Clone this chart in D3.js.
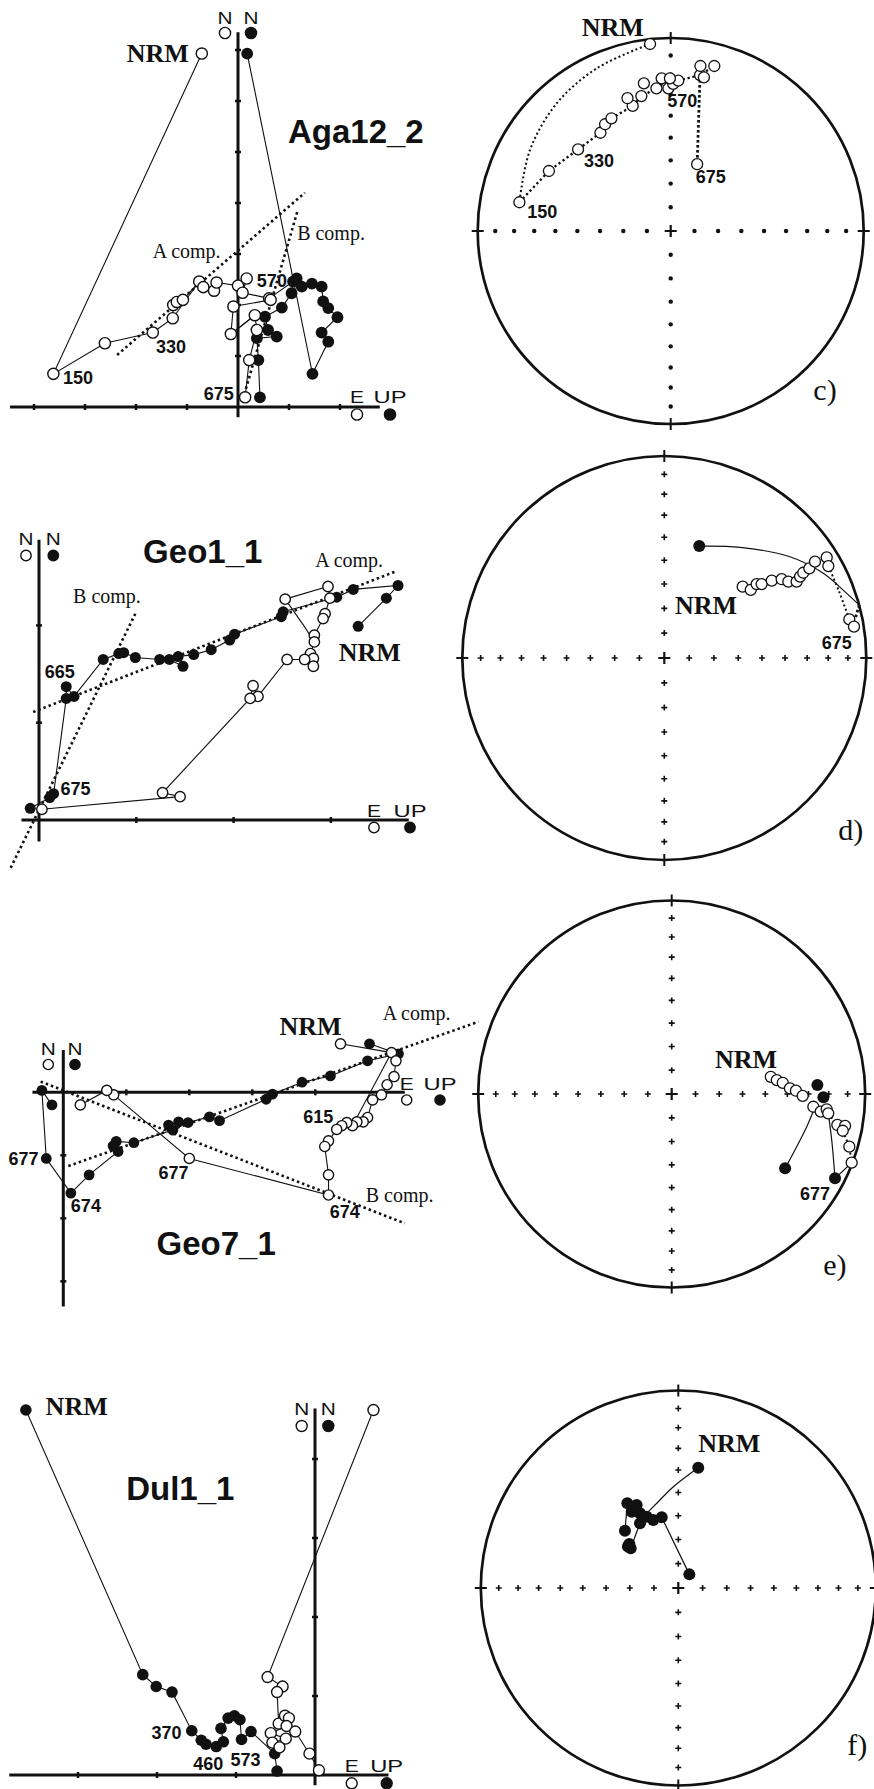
<!DOCTYPE html>
<html>
<head>
<meta charset="utf-8">
<script src="https://cdn.jsdelivr.net/npm/d3@7"></script>
<style>
  body { margin: 0; background: #fff; }
  svg { display: block; }
  .axis { stroke: #111; stroke-width: 3; }
  .tick { stroke: #111; stroke-width: 2.5; }
  .path { fill: none; stroke: #111; stroke-width: 1.1; }
  .comp { fill: none; stroke: #111; stroke-width: 2.6; stroke-dasharray: 2.5 3; }
  .sans { font-family: "Liberation Sans", Arial, sans-serif; fill: #111; }
  .serif { font-family: "Liberation Serif", "Times New Roman", serif; fill: #111; }
</style>
</head>
<body>
<svg width="874" height="1789"></svg>
<script>
const svg = d3.select("svg");

// ---------- Zijderveld data, in tick units ----------
const agaOpen = [[-0.71,6.93],[-3.62,0.65],[-2.61,1.25],[-1.67,1.46],[-1.28,1.74],[-1.27,2.00],[-1.20,2.06],[-1.08,2.10],[-0.76,2.46],[-0.68,2.35],[-0.47,2.28],[-0.42,2.44],[0,2.38],[0.17,2.52],[0.09,2.24],[0.61,2.13],[0.64,2.10],[-0.09,1.97],[-0.14,1.43],[0.33,1.80],[0.37,1.51],[0.22,0.92],[0.14,0.19]];
const agaFilled = [[0.18,6.93],[1.46,0.65],[1.77,1.28],[1.64,1.46],[1.95,1.76],[1.77,1.94],[1.67,2.07],[1.64,2.36],[1.45,2.42],[1.25,2.36],[1.15,2.52],[1.08,2.46],[1.05,2.23],[0.86,1.95],[0.53,1.77],[0.59,1.51],[0.76,1.38],[0.37,1.35],[0.40,0.92],[0.43,0.19]];
const agaThick = [[[-1.28,1.74],[-0.76,2.46]],[[1.08,2.46],[0.61,2.13]],[[-0.14,1.43],[0.33,1.80]]];
const agaComps = [[[-2.37,1.02],[1.31,4.20]],[[1.16,3.82],[0.08,0.10]]];
const agaXTicks = [-4,-3,-2,-1,1,2];
const agaYTicks = [1,2,3,4,5,6,7];
const agaLabels = [
  {t:"Aga12_2", p:[0.98,5.18], k:"title"},
  {t:"NRM", p:[-2.18,6.76], k:"nrm"},
  {t:"150", p:[-3.43,0.45], k:"num"},
  {t:"330", p:[-1.61,1.06], k:"num"},
  {t:"570", p:[0.37,2.35], k:"num"},
  {t:"675", p:[-0.67,0.14], k:"num"},
  {t:"A comp.", p:[-1.67,2.92], k:"comp"},
  {t:"B comp.", p:[1.16,3.27], k:"comp"}
];

const geo1Open = [[2.53,2.27],[2.97,2.40],[2.99,2.28],[2.94,2.12],[2.92,2.07],[2.83,1.90],[2.83,1.83],[2.79,1.71],[2.82,1.66],[2.82,1.58],[2.73,1.65],[2.55,1.65],[2.25,1.27],[2.20,1.38],[2.17,1.25],[1.27,0.28],[1.45,0.24],[0.03,0.11]];
const geo1OpenExtra = [[2.53,2.27],[2.72,2.00],[2.83,1.83]];
const geo1Filled = [[3.28,1.99],[3.57,2.28],[3.69,2.41],[3.23,2.37],[3.06,2.29],[2.51,2.14],[2.49,2.09],[2.01,1.91],[1.96,1.85],[1.77,1.75],[1.59,1.70],[1.43,1.68],[1.48,1.58],[1.34,1.65],[1.24,1.65],[0.99,1.67],[0.87,1.72],[0.82,1.71],[0.66,1.65],[0.36,1.27],[0.28,1.37],[0.28,1.25],[0.15,0.27],[0.11,0.23],[-0.09,0.12]];
const geo1Comps = [[[-0.06,1.11],[3.68,2.56]],[[0.99,2.12],[-0.30,-0.51]]];
const geo1XTicks = [1,2,3];
const geo1YTicks = [1,2];
const geo1Labels = [
  {t:"Geo1_1", p:[1.07,2.64], k:"title"},
  {t:"NRM", p:[3.08,1.63], k:"nrm"},
  {t:"665", p:[0.06,1.46], k:"num"},
  {t:"675", p:[0.22,0.26], k:"num"},
  {t:"A comp.", p:[2.84,2.60], k:"comp"},
  {t:"B comp.", p:[0.35,2.23], k:"comp"}
];

const geo7Open = [[4.40,0.77],[5.21,0.63],[5.28,0.50],[5.25,0.25],[5.14,0.12],[5.05,-0.04],[4.91,-0.12],[4.83,-0.40],[4.76,-0.47],[4.66,-0.47],[4.59,-0.53],[4.50,-0.48],[4.42,-0.53],[4.34,-0.59],[4.21,-0.77],[4.15,-0.86],[4.21,-1.31],[4.21,-1.63],[2.00,-1.05],[0.80,-0.04],[0.69,0.03],[0.27,-0.20]];
const geo7OpenExtra = [[5.21,0.63],[4.59,-0.53]];
const geo7Filled = [[4.86,0.77],[5.32,0.61],[4.83,0.50],[4.24,0.26],[3.79,0.16],[3.32,-0.03],[3.22,-0.11],[2.48,-0.45],[2.32,-0.39],[1.98,-0.48],[1.83,-0.47],[1.67,-0.52],[1.74,-0.60],[1.12,-0.80],[0.84,-0.78],[0.79,-0.85],[0.87,-0.94],[0.41,-1.31],[0.12,-1.60],[-0.27,-1.05],[-0.34,0.03],[-0.18,-0.20]];
const geo7Comps = [[[0.08,-1.17],[6.59,1.12]],[[-0.36,0.17],[5.42,-2.08]]];
const geo7XTicks = [1,2,3,4];
const geo7YTicks = [-1,-2,-3];
const geo7Labels = [
  {t:"Geo7_1", p:[1.48,-2.58], k:"title"},
  {t:"NRM", p:[3.43,0.91], k:"nrm"},
  {t:"615", p:[3.81,-0.48], k:"num"},
  {t:"677", p:[-0.87,-1.15], k:"num"},
  {t:"674", p:[0.12,-1.90], k:"num"},
  {t:"677", p:[1.51,-1.37], k:"num"},
  {t:"674", p:[4.23,-2.00], k:"num"},
  {t:"A comp.", p:[5.07,1.15], k:"comp"},
  {t:"B comp.", p:[4.80,-1.74], k:"comp"}
];

const dulOpen = [[0.74,4.62],[-0.60,1.24],[-0.41,1.12],[-0.48,1.05],[-0.46,0.65],[-0.38,0.75],[-0.33,0.72],[-0.36,0.62],[-0.56,0.53],[-0.37,0.46],[-0.54,0.41],[-0.45,0.35],[-0.25,0.55],[-0.07,0.27],[0.05,0.06]];
const dulFilled = [[-3.66,4.62],[-2.18,1.27],[-2.01,1.12],[-1.81,1.05],[-1.56,0.56],[-1.44,0.44],[-1.38,0.39],[-1.25,0.36],[-1.16,0.42],[-1.19,0.59],[-1.10,0.72],[-1.02,0.75],[-0.95,0.70],[-0.93,0.45],[-0.81,0.55],[-0.51,0.27],[-0.48,0.05]];
const dulXTicks = [-3,-2,-1];
const dulYTicks = [1,2,3,4];
const dulLabels = [
  {t:"Dul1_1", p:[-2.39,3.48], k:"title"},
  {t:"NRM", p:[-3.41,4.56], k:"nrm"},
  {t:"370", p:[-2.07,0.46], k:"num"},
  {t:"460", p:[-1.54,0.06], k:"num"},
  {t:"573", p:[-1.07,0.11], k:"num"}
];

// ---------- stereonet data, in net radius units (east, north) ----------
const cOpen = [[-0.107,0.969],[-0.784,0.149],[-0.631,0.311],[-0.480,0.423],[-0.364,0.509],[-0.340,0.553],[-0.307,0.584],[-0.197,0.648],[-0.224,0.688],[-0.152,0.699],[-0.139,0.765],[-0.074,0.739],[-0.047,0.791],[-0.012,0.739],[0.013,0.762],[0.039,0.779],[-0.004,0.791],[0.152,0.808],[0.172,0.796],[0.154,0.855],[0.226,0.855],[0.137,0.346]];
const cArc = [[-0.107,0.969],[-0.383,0.843],[-0.590,0.662],[-0.729,0.420],[-0.784,0.149]];
const cTrack = [[-0.784,0.149],[-0.631,0.311],[-0.480,0.423],[-0.364,0.509],[-0.307,0.584],[-0.197,0.648],[-0.152,0.699],[-0.074,0.739],[-0.004,0.791],[0.039,0.779],[0.152,0.808],[0.226,0.855]];
const cDrop = [[0.152,0.808],[0.137,0.346]];
const cLabels = [
  {t:"NRM", p:[-0.461,1.010], k:"nrm"},
  {t:"150", p:[-0.743,0.066], k:"num"},
  {t:"330", p:[-0.449,0.333], k:"num"},
  {t:"570", p:[-0.018,0.641], k:"num"},
  {t:"675", p:[0.130,0.247], k:"num"},
  {t:"c)", p:[0.739,-0.876], k:"tag"}
];

const dOpen = [[0.388,0.353],[0.428,0.337],[0.457,0.366],[0.482,0.366],[0.532,0.383],[0.581,0.390],[0.614,0.378],[0.655,0.378],[0.672,0.403],[0.688,0.422],[0.718,0.444],[0.746,0.477],[0.804,0.498],[0.812,0.455],[0.916,0.191],[0.939,0.155]];
const dFilled = [[0.173,0.554]];
const dCircle = [[0.173,0.554],[0.375,0.548],[0.622,0.501],[0.787,0.419],[0.903,0.320],[0.965,0.262]];
const dTrack = [[0.812,0.455],[0.865,0.330],[0.916,0.191]];
const dEdge = [[0.965,0.262],[0.945,0.195]];
const dLabels = [
  {t:"NRM", p:[0.053,0.218], k:"nrm"},
  {t:"675", p:[0.779,0.043], k:"num"},
  {t:"d)", p:[0.861,-0.901], k:"tag"}
];

const eOpen = [[0.512,0.089],[0.543,0.072],[0.574,0.058],[0.611,0.029],[0.642,0.017],[0.677,-0.010],[0.732,-0.066],[0.770,-0.091],[0.801,-0.079],[0.809,-0.100],[0.856,-0.160],[0.896,-0.165],[0.884,-0.190],[0.918,-0.272],[0.930,-0.355]];
const eFilled = [[0.753,0.047],[0.784,-0.017],[0.586,-0.384],[0.844,-0.436]];
const eCurve1 = [[0.741,-0.066],[0.698,-0.169],[0.637,-0.289],[0.586,-0.384]];
const eCurve2 = [[0.809,-0.100],[0.827,-0.238],[0.844,-0.436]];
const eLink = [[0.844,-0.436],[0.930,-0.355]];
const eTrack = [[0.809,-0.100],[0.856,-0.160],[0.884,-0.190],[0.918,-0.272],[0.930,-0.355]];
const eLabels = [
  {t:"NRM", p:[0.224,0.133], k:"nrm"},
  {t:"677", p:[0.663,-0.548], k:"num"},
  {t:"e)", p:[0.783,-0.935], k:"tag"}
];

const fFilled = [[0.101,0.609],[-0.258,0.429],[-0.211,0.420],[-0.236,0.386],[-0.194,0.378],[-0.160,0.361],[-0.127,0.344],[-0.084,0.358],[-0.194,0.328],[-0.270,0.290],[-0.248,0.223],[-0.241,0.201],[-0.255,0.210],[0.056,0.069]];
const fCurve = [[0.101,0.609],[-0.025,0.513],[-0.109,0.429],[-0.160,0.378]];
const fLinks = [[[-0.084,0.358],[0.056,0.069]],[[-0.270,0.290],[-0.258,0.429]],[[-0.241,0.201],[-0.194,0.328]],[[-0.258,0.429],[-0.160,0.361],[-0.084,0.358]]];
const fLabels = [
  {t:"NRM", p:[0.101,0.690], k:"nrm"},
  {t:"f)", p:[0.856,-0.846], k:"tag"}
];

// equal-area grid at 10 degree steps of inclination
const gridInc = [10,20,30,40,50,60,70,80];

// ---------- text styles ----------
const textStyle = {
  title: {cls:"sans", size:33, weight:"bold"},
  nrm:   {cls:"serif", size:26, weight:"bold"},
  num:   {cls:"sans", size:18, weight:"bold"},
  comp:  {cls:"serif", size:20, weight:"normal"},
  tag:   {cls:"serif", size:30, weight:"normal"}
};

function addLabels(g, labels, x, y) {
  g.selectAll(null).data(labels).join("text")
    .attr("class", d => textStyle[d.k].cls)
    .attr("font-size", d => textStyle[d.k].size)
    .attr("font-weight", d => textStyle[d.k].weight)
    .attr("x", d => x(d.p[0]))
    .attr("y", d => y(d.p[1]))
    .text(d => d.t);
}

function marker(g, cx, cy, r, filled) {
  g.append("circle").attr("cx", cx).attr("cy", cy).attr("r", r)
    .attr("fill", filled ? "#111" : "#fff").attr("stroke", "#111").attr("stroke-width", 1.4);
}

// ---------- Zijderveld panels ----------
const zPanels = [
  {ox:238, oy:407, unit:51, xExt:[-4.47,2.78], yExt:[-0.2,7.35], xTicks:agaXTicks, yTicks:agaYTicks,
   open:agaOpen, filled:agaFilled, extra:[], thick:agaThick, comps:agaComps, labels:agaLabels, r:5.6,
   nX:[225,251], nY:23.5, nM:33, eX:[357,390], eY:403, eM:414.5},
  {ox:39, oy:820, unit:97.3, xExt:[-0.18,3.8], yExt:[-0.22,2.88], xTicks:geo1XTicks, yTicks:geo1YTicks,
   open:geo1Open, filled:geo1Filled, extra:[geo1OpenExtra], thick:[], comps:geo1Comps, labels:geo1Labels, r:5.2,
   nX:[26,53.3], nY:545, nM:555.5, eX:[374,410], eY:816.5, eM:827.5},
  {ox:63.3, oy:1092.3, unit:63, xExt:[-0.49,5.42], yExt:[-3.40,0.67], xTicks:geo7XTicks, yTicks:geo7YTicks,
   open:geo7Open, filled:geo7Filled, extra:[geo7OpenExtra], thick:[], comps:geo7Comps, labels:geo7Labels, r:5.1,
   nX:[48.3,75], nY:1055, nM:1064.5, eX:[406.7,440], eY:1090, eM:1100},
  {ox:315, oy:1775, unit:79, xExt:[-3.87,0.93], yExt:[-0.13,4.64], xTicks:dulXTicks, yTicks:dulYTicks,
   open:dulOpen, filled:dulFilled, extra:[], thick:[], comps:[], labels:dulLabels, r:5.5,
   nX:[301.7,328.3], nY:1415, nM:1426, eX:[351.7,386.7], eY:1771.5, eM:1783.3}
];

function drawZ(p) {
  const x = d3.scaleLinear().domain([0, 1]).range([p.ox, p.ox + p.unit]);
  const y = d3.scaleLinear().domain([0, 1]).range([p.oy, p.oy - p.unit]);
  const g = svg.append("g");
  const line = d3.line().x(d => x(d[0])).y(d => y(d[1]));

  g.append("line").attr("class", "axis")
    .attr("x1", x(p.xExt[0])).attr("x2", x(p.xExt[1])).attr("y1", y(0)).attr("y2", y(0));
  g.append("line").attr("class", "axis")
    .attr("x1", x(0)).attr("x2", x(0)).attr("y1", y(p.yExt[0])).attr("y2", y(p.yExt[1]));
  g.selectAll(null).data(p.xTicks).join("line").attr("class", "tick")
    .attr("x1", d => x(d)).attr("x2", d => x(d)).attr("y1", y(0) - 3).attr("y2", y(0) + 3);
  g.selectAll(null).data(p.yTicks).join("line").attr("class", "tick")
    .attr("y1", d => y(d)).attr("y2", d => y(d)).attr("x1", x(0) - 3).attr("x2", x(0) + 3);

  g.selectAll(null).data(p.comps).join("path").attr("class", "comp").attr("d", line);
  g.selectAll(null).data([p.filled, p.open, ...p.extra]).join("path").attr("class", "path").attr("d", line);
  g.selectAll(null).data(p.thick).join("path").attr("class", "path").attr("stroke-width", 2.4).attr("d", line);

  g.selectAll(null).data(p.filled).join("circle")
    .attr("cx", d => x(d[0])).attr("cy", d => y(d[1])).attr("r", p.r + 0.3).attr("fill", "#111");
  g.selectAll(null).data(p.open).join("circle")
    .attr("cx", d => x(d[0])).attr("cy", d => y(d[1])).attr("r", p.r)
    .attr("fill", "#fff").attr("stroke", "#111").attr("stroke-width", 1.4);

  // axis names
  const ax = [{t:"N", x:p.nX[0], y:p.nY, w:15}, {t:"N", x:p.nX[1], y:p.nY, w:15},
              {t:"E", x:p.eX[0], y:p.eY, w:14}, {t:"UP", x:p.eX[1], y:p.eY, w:33}];
  g.selectAll(null).data(ax).join("text").attr("class", "sans").attr("font-size", 17)
    .attr("text-anchor", "middle").attr("x", d => d.x).attr("y", d => d.y)
    .attr("textLength", d => d.w).attr("lengthAdjust", "spacingAndGlyphs").text(d => d.t);
  marker(g, p.nX[0], p.nM, p.r, false);
  marker(g, p.nX[1], p.nM, p.r, true);
  marker(g, p.eX[0], p.eM, p.r, false);
  marker(g, p.eX[1], p.eM, p.r, true);

  addLabels(g, p.labels, x, y);
}
zPanels.forEach(drawZ);

// ---------- stereonets ----------
const nets = [
  {cx:670.7, cy:231, R:193, grid:"dot", open:cOpen, filled:[],
   lines:[{pts:cArc, s:"fine", curve:true}, {pts:cTrack, s:"mid"}, {pts:cDrop, s:"thick"}], labels:cLabels},
  {cx:664.3, cy:658, R:202, grid:"cross", open:dOpen, filled:dFilled,
   lines:[{pts:dCircle, s:"solid", curve:true}, {pts:dTrack, s:"fine", curve:true}, {pts:dEdge, s:"thick"}], labels:dLabels},
  {cx:671.7, cy:1094, R:193.5, grid:"cross", open:eOpen, filled:eFilled,
   lines:[{pts:eCurve1, s:"solid", curve:true}, {pts:eCurve2, s:"solid", curve:true}, {pts:eLink, s:"solid"}, {pts:eTrack, s:"fine"}], labels:eLabels},
  {cx:678.3, cy:1588, R:197.5, grid:"cross", open:[], filled:fFilled,
   lines:[{pts:fCurve, s:"solid", curve:true}, ...fLinks.map(l => ({pts:l, s:"solid"}))], labels:fLabels}
];

const lineStyle = {
  solid: {w:1.2, dash:null},
  fine:  {w:2, dash:"2 2.6"},
  mid:   {w:2.3, dash:"2.3 2.7"},
  thick: {w:2.8, dash:"2.6 2.4"}
};

function drawNet(n) {
  const x = d3.scaleLinear().domain([-1, 1]).range([n.cx - n.R, n.cx + n.R]);
  const y = d3.scaleLinear().domain([-1, 1]).range([n.cy + n.R, n.cy - n.R]);
  const g = svg.append("g");
  const ea = inc => Math.SQRT2 * Math.sin((90 - inc) / 2 * Math.PI / 180);

  g.append("circle").attr("cx", x(0)).attr("cy", y(0)).attr("r", x(1) - x(0))
    .attr("fill", "none").attr("stroke", "#111").attr("stroke-width", 2.7);

  const gridPts = [];
  gridInc.forEach(i => { const r = ea(i); gridPts.push([r,0],[-r,0],[0,r],[0,-r]); });
  if (n.grid === "dot") {
    g.selectAll(null).data(gridPts).join("circle")
      .attr("cx", d => x(d[0])).attr("cy", d => y(d[1])).attr("r", 2.2).attr("fill", "#111");
  } else {
    g.selectAll(null).data(gridPts).join("path")
      .attr("d", d => `M${x(d[0]) - 3},${y(d[1])}h6M${x(d[0])},${y(d[1]) - 3}v6`)
      .attr("stroke", "#111").attr("stroke-width", 1.6);
  }
  // centre cross and rim ticks
  g.append("path").attr("d", `M${x(0) - 6},${y(0)}h12M${x(0)},${y(0) - 6}v12`)
    .attr("stroke", "#111").attr("stroke-width", 2.2);
  const rim = [[1,0],[-1,0],[0,1],[0,-1]];
  g.selectAll(null).data(rim).join("path")
    .attr("d", d => d[1] === 0
      ? `M${x(d[0]) - 6},${y(0)}h12`
      : `M${x(0)},${y(d[1]) - 6}v12`)
    .attr("stroke", "#111").attr("stroke-width", 2);

  n.lines.forEach(l => {
    const ln = d3.line().x(d => x(d[0])).y(d => y(d[1]));
    if (l.curve) ln.curve(d3.curveCatmullRom);
    g.append("path").attr("d", ln(l.pts)).attr("fill", "none").attr("stroke", "#111")
      .attr("stroke-width", lineStyle[l.s].w).attr("stroke-dasharray", lineStyle[l.s].dash);
  });

  g.selectAll(null).data(n.open).join("circle")
    .attr("cx", d => x(d[0])).attr("cy", d => y(d[1])).attr("r", 5.5)
    .attr("fill", "#fff").attr("stroke", "#111").attr("stroke-width", 1.3);
  g.selectAll(null).data(n.filled).join("circle")
    .attr("cx", d => x(d[0])).attr("cy", d => y(d[1])).attr("r", 6).attr("fill", "#111");

  addLabels(g, n.labels, x, y);
}
nets.forEach(drawNet);
</script>
</body>
</html>
